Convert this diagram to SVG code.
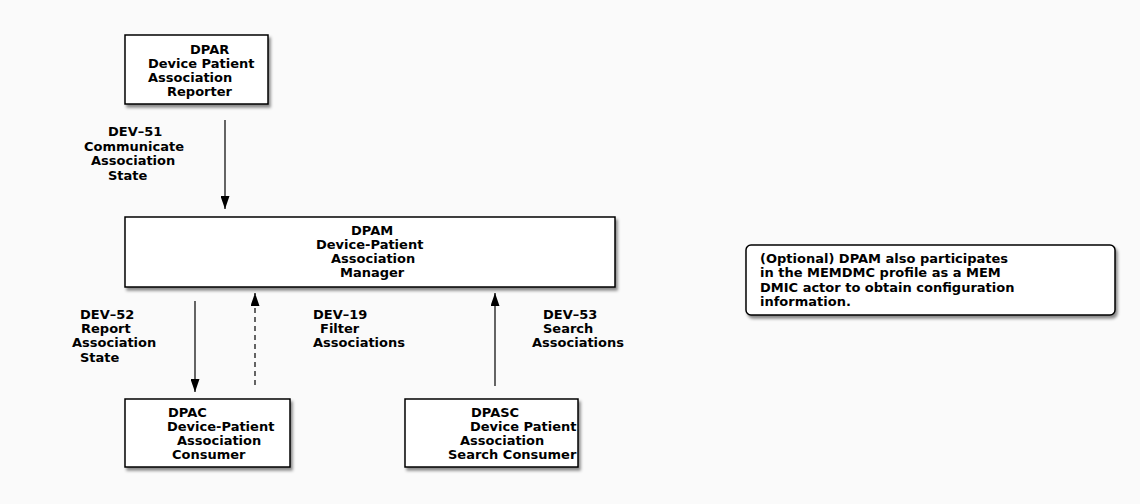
<svg xmlns="http://www.w3.org/2000/svg" width="1140" height="504" viewBox="0 0 1140 504">
  <defs>
    <filter id="sh" x="-10%" y="-10%" width="130%" height="140%">
      <feDropShadow dx="2" dy="3" stdDeviation="1.8" flood-color="#000" flood-opacity="0.45"/>
    </filter>
    <marker id="ah" markerUnits="userSpaceOnUse" markerWidth="13" markerHeight="9" refX="13" refY="4.5" orient="auto" viewBox="0 0 13 9">
      <path d="M0,0 L13,4.5 L0,9 Z" fill="#000"/>
    </marker>
  </defs>
  <style>
    .box { fill: #fff; stroke: #000; stroke-width: 1.5; filter: url(#sh); }
    text { font-family: "DejaVu Sans", "Liberation Sans", sans-serif; font-weight: bold; font-size: 13px; fill: #000; }
    .c { stroke: #000; stroke-width: 1.2; fill: none; marker-end: url(#ah); }
    .d { stroke-dasharray: 5 4; }
  </style>
  <rect x="0" y="0" width="1140" height="504" fill="#fafafa"/>

  <g id="connectors">
    <line class="c" x1="225" y1="120" x2="225" y2="209"/>
    <line class="c" x1="195" y1="301" x2="195" y2="392"/>
    <line class="c d" x1="255" y1="385" x2="255" y2="293"/>
    <line class="c" x1="495" y1="386" x2="495" y2="293"/>
    <g id="lbl51">
      <text x="108" y="136">DEV–51</text>
      <text x="84" y="151">Communicate</text>
      <text x="91" y="165">Association</text>
      <text x="108" y="180">State</text>
    </g>
    <g id="lbl52">
      <text x="80" y="319">DEV–52</text>
      <text x="81" y="333">Report</text>
      <text x="72" y="347">Association</text>
      <text x="80" y="362">State</text>
    </g>
    <g id="lbl19">
      <text x="313" y="319">DEV–19</text>
      <text x="320" y="333">Filter</text>
      <text x="313" y="347">Associations</text>
    </g>
    <g id="lbl53">
      <text x="543" y="319">DEV–53</text>
      <text x="543" y="333">Search</text>
      <text x="532" y="347">Associations</text>
    </g>
  </g>

  <g id="dpar">
    <rect class="box" x="125" y="35" width="143" height="69"/>
    <text x="190" y="54">DPAR</text>
    <text x="148" y="68">Device Patient</text>
    <text x="148" y="82">Association</text>
    <text x="167" y="96">Reporter</text>
  </g>

  <g id="dpam">
    <rect class="box" x="125" y="217" width="490" height="70"/>
    <text x="351" y="235">DPAM</text>
    <text x="316" y="249">Device-Patient</text>
    <text x="331" y="263">Association</text>
    <text x="340" y="277">Manager</text>
  </g>

  <g id="dpac">
    <rect class="box" x="125" y="399" width="165" height="68"/>
    <text x="168" y="417">DPAC</text>
    <text x="167" y="431">Device-Patient</text>
    <text x="177" y="445">Association</text>
    <text x="172" y="459">Consumer</text>
  </g>

  <g id="dpasc">
    <rect class="box" x="405" y="399" width="173" height="68"/>
    <text x="471" y="417">DPASC</text>
    <text x="470" y="431">Device Patient</text>
    <text x="460" y="445">Association</text>
    <text x="448" y="459">Search Consumer</text>
  </g>

  <g id="note">
    <rect class="box" x="746" y="245" width="369" height="70" rx="5" ry="5"/>
    <text x="760" y="263">(Optional) DPAM also participates</text>
    <text x="760" y="277">in the MEMDMC profile as a MEM</text>
    <text x="760" y="292">DMIC actor to obtain configuration</text>
    <text x="760" y="306">information.</text>
  </g>
</svg>
